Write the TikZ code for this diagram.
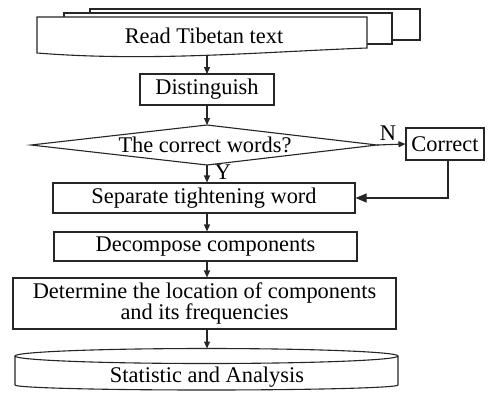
\documentclass[tikz,border=0pt]{standalone}
\usepackage{fontspec}
\setmainfont{Liberation Serif}
\usetikzlibrary{arrows.meta}
\begin{document}
\begin{tikzpicture}[x=1pt,y=-1pt,
  ln/.style={line width=1.1pt, draw=black!85},
  txt/.style={font=\fontsize{22.4}{20}\selectfont, inner sep=0pt},
  box/.style={ln, txt, fill=white, align=center},
  arr/.style={ln, -{Triangle[length=7pt,width=6pt]}},
  bigarr/.style={ln, -{Triangle[length=11pt,width=9pt]}}]
\useasboundingbox[fill=white] (0,0) rectangle (488,392);
% multi-document
\draw[ln, fill=white] (90,13) -- (90,9) -- (420,9) -- (420,40) -- (392,40);
\draw[ln, fill=white] (64,17) -- (64,13) -- (392,13) -- (392,44) -- (367,44);
\draw[ln, fill=white] (37,17) -- (367,17) -- (367,48) .. controls (260,52) and (150,62) .. (37,53) -- cycle;
\node[txt] (read) at (204,36) {Read Tibetan text};
\coordinate (readb) at (207,55.5);
% boxes
\node[box, minimum width=134pt, minimum height=31pt] (dist) at (207,89.5) {Distinguish};
\coordinate (decT) at (207,125);
\coordinate (decR) at (377,145);
\coordinate (decB) at (207,165);
\coordinate (decL) at (31,145);
\draw[ln] (decT) -- (decR) -- (decB) -- (decL) -- cycle;
\node[txt] (dec) at (205,145) {The correct words?};
\node[box, minimum width=78pt, minimum height=32pt] (corr) at (445,144) {Correct};
\node[box, minimum width=302pt, minimum height=30pt] (sep) at (204,198) {Separate tightening word};
\node[box, minimum width=303pt, minimum height=29pt] (decomp) at (205.5,246.5) {Decompose components};
\node[box, minimum width=383pt, minimum height=51pt] (det) at (204.5,303.5) {Determine the location of components\\and its frequencies};
% cylinder
\draw[ln, fill=white] (15,356) -- (15,385) arc[start angle=180, end angle=360, x radius=191.5pt, y radius=5pt] -- (398,356);
\draw[ln, fill=white] (206.5,356) ellipse[x radius=191.5pt, y radius=7.5pt];
\coordinate (statT) at (207,348.5);
\node[txt] (stat) at (207,377) {Statistic and Analysis};
% connectors
\draw[arr] (readb) -- (dist.south |- 0,74);
\draw[arr] (dist.south -| 207,0) -- (decT);
\draw[arr] (decB) -- (sep.north -| 207,0);
\draw[arr] (decR) -- (corr.west);
\draw[bigarr] ([xshift=3pt]corr.south) |- (sep.east);
\draw[arr] (sep.south -| 207,0) -- (decomp.north -| 207,0);
\draw[arr] (decomp.south -| 207,0) -- (det.north -| 207,0);
\draw[arr] (det.south -| 207,0) -- (statT);
% labels
\node[txt] (ylab) at (223,172) {Y};
\node[txt] (nlab) at (388,133) {N};
\end{tikzpicture}
\end{document}
